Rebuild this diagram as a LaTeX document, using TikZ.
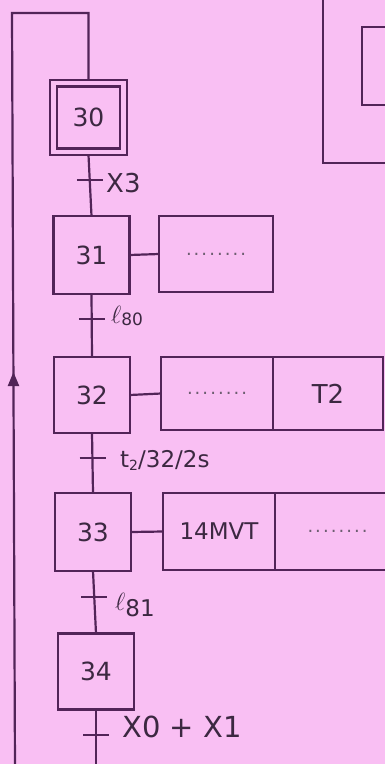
\documentclass[tikz,border=0pt]{standalone}
\usepackage{fontspec}
\setmainfont{DejaVu Sans}
\usetikzlibrary{arrows.meta,decorations.markings}
\definecolor{bg}{RGB}{249,191,243}
\definecolor{ink}{RGB}{82,36,88}
\definecolor{txt}{RGB}{60,40,65}
\newcommand{\fs}[1]{\fontsize{#1}{#1}\selectfont}
\newcommand{\dotrow}{{\fs{18}\color{txt!75}\makebox[60pt]{.\hfill.\hfill.\hfill.\hfill.\hfill.\hfill.\hfill.}}}
\tikzset{
  stepbox/.style={draw=ink, line width=2.2pt, minimum width=76pt, minimum height=76pt,
    inner sep=0pt, outer sep=0pt, text=txt, font=\fs{25}},
  actbox/.style={draw=ink, line width=2.2pt, minimum height=76pt, inner sep=0pt,
    outer sep=0pt, text=txt, font=\fs{24}},
  lbl/.style={anchor=base west, inner sep=0pt, text=txt},
  link/.style={draw=ink, line width=2.2pt},
  tbar/.style={draw=ink, line width=2.2pt},
}
\begin{document}
\begin{tikzpicture}[x=1pt,y=-1pt]
\fill[bg] (0,0) rectangle (385,764);
\useasboundingbox (0,0) rectangle (385,764);
\clip (0,0) rectangle (385,764);

% top-right partial boxes
\node[draw=ink, line width=2.2pt, minimum width=100pt, minimum height=200pt] (ext) at (373,63) {};
\node[draw=ink, line width=2.2pt, minimum width=60pt, minimum height=78pt] (extin) at (392,66) {};

% steps
\node[stepbox, minimum width=77pt, minimum height=75pt] (s30) at (88.5,117.5) {};
\node[stepbox, minimum width=63pt, minimum height=62pt] (s30i) at (s30.center) {30};
\node[stepbox, minimum height=78pt] (s31) at (91.5,255) {31};
\node[stepbox] (s32) at (92,395) {32};
\node[stepbox, minimum height=78pt] (s33) at (93,532) {33};
\node[stepbox] (s34) at (96,671.5) {34};

% actions
\node[actbox, minimum width=114pt] (a31) at (216,254) {\dotrow};
\node[actbox, minimum width=112pt, minimum height=73pt] (a32a) at (217,393.5) {\dotrow};
\node[actbox, minimum width=110pt, minimum height=73pt, anchor=west, font=\fs{26}] (a32b) at (a32a.east) {T2};
\node[actbox, minimum width=112pt, minimum height=77pt, font=\fs{23}] (a33a) at (219,531.5) {14MVT};
\node[actbox, minimum width=125pt, minimum height=77pt, anchor=west] (a33b) at (a33a.east) {\dotrow};

\draw[link] (s31.east) -- (a31.west);
\draw[link] (s32.east) -- (a32a.west);
\draw[link] (s33.east) -- (a33a.west);

% vertical links
\coordinate (bot) at (96,770);
\draw[link] (s30.south) -- (s31.north);
\draw[link] (s31.south) -- (s32.north);
\draw[link] (s32.south) -- (s33.north);
\draw[link] (s33.south) -- (s34.north);
\draw[link] (s34.south) -- (bot);

% return loop
\coordinate (lb) at (15,770);
\coordinate (lt) at (12,13);
\draw[link, postaction={decorate},
  decoration={markings, mark=at position 398pt with {\arrow{Triangle[length=14pt,width=11pt]}}}]
  (lb) -- (lt) -| (s30.north);

% transitions
\coordinate (t1) at (89.8,180);
\coordinate (t2) at (91.8,319);
\coordinate (t3) at (92.6,458);
\coordinate (t4) at (94.3,597);
\coordinate (t5) at (96,735);
\foreach \t in {t1,t2,t3,t4,t5}{
  \draw[tbar] ([xshift=-13pt]\t) -- ([xshift=13pt]\t);
}

% labels
\node[lbl, font=\fs{26}] (l1) at (106,192) {X3};
\node[lbl, font=\fs{23}] (l2) at (111,323) {$\ell$\raisebox{-2pt}{\fs{17}80}};
\node[lbl, font=\fs{23}] (l3) at (120,467) {t\raisebox{-3pt}{\fs{14}2}/32/2s};
\node[lbl, font=\fs{31}] (l4) at (115,610) {$\ell$\raisebox{-6pt}{\fs{23}81}};
\node[lbl, font=\fs{29}] (l5) at (122,737) {X0 + X1};
\end{tikzpicture}
\end{document}
